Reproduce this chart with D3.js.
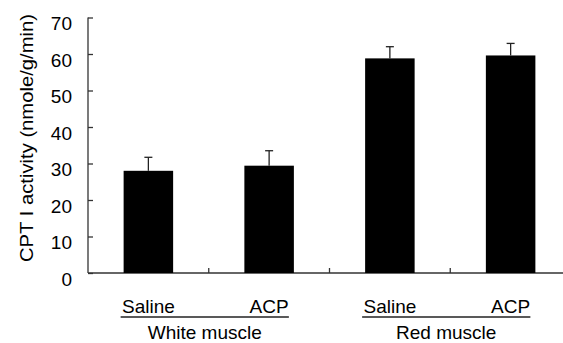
<!DOCTYPE html>
<meta charset="utf-8">
<style>
body { margin: 0; background: #fff; }
svg { display: block; }
text { font-family: "Liberation Sans", Arial, sans-serif; fill: #000; }
.axis line, .axis path { stroke: #333; stroke-width: 1.3; fill: none; }
.bar { fill: #000; }
.err { stroke: #222; stroke-width: 1.3; fill: none; }
.under { stroke: #222; stroke-width: 1.3; }
</style>
<body>
<script src="https://d3js.org/d3.v7.min.js"></script>
<script>
// values
var groups = ["White muscle", "Red muscle"];
var treatments = ["Saline", "ACP"];
var means = [28.0, 29.4, 58.8, 59.6];
var errors = [3.7, 4.1, 3.2, 3.3];
var yTicks = [0, 10, 20, 30, 40, 50, 60, 70];

var W = 563, H = 343;
var plotL = 88, plotR = 571, plotB = 273, plotT = 17.5;

var bars = [];
groups.forEach(function(g, gi) {
  treatments.forEach(function(t, ti) {
    var i = gi * treatments.length + ti;
    bars.push({key: g + "|" + t, group: g, treat: t, mean: means[i], se: errors[i]});
  });
});

var x = d3.scaleBand()
  .domain(bars.map(function(d) { return d.key; }))
  .range([plotL, plotR])
  .paddingInner(0.59)
  .paddingOuter(0.295);

var y = d3.scaleLinear().domain([0, 70]).range([plotB, plotT]);

var svg = d3.select("body").append("svg")
  .attr("width", W)
  .attr("height", H);

// y axis, ticks pointing inward
var yAxis = d3.axisRight(y).tickValues(yTicks).tickSize(5).tickFormat("");
svg.append("g")
  .attr("class", "axis")
  .attr("transform", "translate(" + plotL + ",0)")
  .call(yAxis)
  .call(function(g) { g.select(".domain").attr("d", "M0," + plotT + "V" + plotB); });

svg.append("g").selectAll("text")
  .data(yTicks)
  .enter().append("text")
    .attr("x", 72)
    .attr("y", function(d) { return y(d) + 6; })
    .attr("dy", "0.35em")
    .attr("text-anchor", "end")
    .style("font-size", "19px")
    .text(function(d) { return d; });

// x axis with ticks at category boundaries, pointing up
var bounds = bars.map(function(d) { return x(d.key) + x.bandwidth() / 2 + x.step() / 2; });
var xg = svg.append("g").attr("class", "axis");
xg.append("line")
  .attr("x1", plotL).attr("x2", plotR)
  .attr("y1", plotB).attr("y2", plotB);
xg.selectAll(".tk")
  .data(bounds)
  .enter().append("line")
    .attr("class", "tk")
    .attr("x1", function(d) { return d; })
    .attr("x2", function(d) { return d; })
    .attr("y1", plotB)
    .attr("y2", plotB - 5);

// bars
svg.append("g").selectAll("rect")
  .data(bars)
  .enter().append("rect")
    .attr("class", "bar")
    .attr("x", function(d) { return x(d.key); })
    .attr("width", x.bandwidth())
    .attr("y", function(d) { return y(d.mean); })
    .attr("height", function(d) { return y(0) - y(d.mean); });

// error bars (upper only)
var eb = svg.append("g").selectAll("g")
  .data(bars)
  .enter().append("g")
    .attr("class", "err");
eb.append("line")
  .attr("x1", function(d) { return x(d.key) + x.bandwidth() / 2; })
  .attr("x2", function(d) { return x(d.key) + x.bandwidth() / 2; })
  .attr("y1", function(d) { return y(d.mean); })
  .attr("y2", function(d) { return y(d.mean + d.se); });
eb.append("line")
  .attr("x1", function(d) { return x(d.key) + x.bandwidth() / 2 - 4; })
  .attr("x2", function(d) { return x(d.key) + x.bandwidth() / 2 + 4; })
  .attr("y1", function(d) { return y(d.mean + d.se); })
  .attr("y2", function(d) { return y(d.mean + d.se); });

// treatment labels
svg.append("g").selectAll("text")
  .data(bars)
  .enter().append("text")
    .attr("x", function(d) { return x(d.key) + x.bandwidth() / 2; })
    .attr("y", 313)
    .attr("text-anchor", "middle")
    .style("font-size", "19px")
    .text(function(d) { return d.treat; });

// group underline + label
groups.forEach(function(g, gi) {
  var first = bars[gi * 2], last = bars[gi * 2 + 1];
  var x0 = x(first.key) - 3, x1 = x(last.key) + x.bandwidth() - 5;
  svg.append("line")
    .attr("class", "under")
    .attr("x1", x0).attr("x2", x1)
    .attr("y1", 317).attr("y2", 317);
  svg.append("text")
    .attr("x", (x(first.key) + x(last.key) + x.bandwidth()) / 2 - 4)
    .attr("y", 338.5)
    .attr("text-anchor", "middle")
    .style("font-size", "19px")
    .text(g);
});

// y title
svg.append("text")
  .attr("transform", "translate(33,138) rotate(-90)")
  .attr("text-anchor", "middle")
  .style("font-size", "18px")
  .attr("textLength", 248)
  .attr("lengthAdjust", "spacingAndGlyphs")
  .text("CPT I activity (nmole/g/min)");
</script>
